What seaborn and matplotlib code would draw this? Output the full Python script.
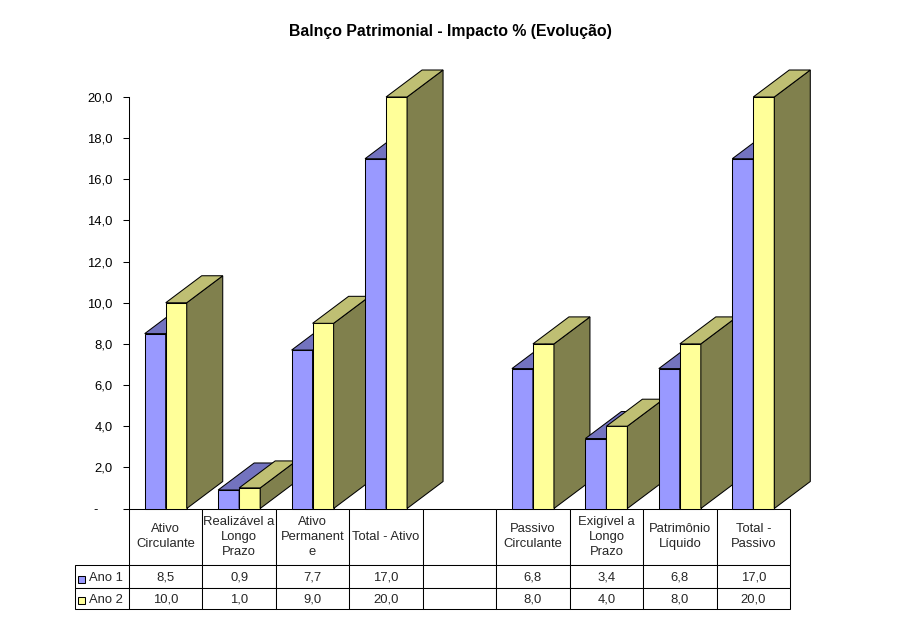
import matplotlib
matplotlib.use("Agg")
import matplotlib.pyplot as plt
from matplotlib.patches import Polygon, Rectangle
import numpy as np
import pandas as pd
import seaborn as sns

categories = ["Ativo\nCirculante", "Realizável a\nLongo\nPrazo", "Ativo\nPermanent\ne", "Total - Ativo", "",
              "Passivo\nCirculante", "Exigível a\nLongo\nPrazo", "Patrimônio\nLíquido", "Total -\nPassivo"]
ano1 = [8.5, 0.9, 7.7, 17.0, np.nan, 6.8, 3.4, 6.8, 17.0]
ano2 = [10.0, 1.0, 9.0, 20.0, np.nan, 8.0, 4.0, 8.0, 20.0]
series_names = ["Ano 1", "Ano 2"]
yticks = [0, 2, 4, 6, 8, 10, 12, 14, 16, 18, 20]
ylabels = ["-    ", "2,0", "4,0", "6,0", "8,0", "10,0", "12,0", "14,0", "16,0", "18,0", "20,0"]

front = ["#9999FF", "#FFFF99"]
top = ["#7373BF", "#BFBF73"]
side = ["#4D4D80", "#80804D"]

W, H = 900, 624
DEPTH_X, DEPTH_Y = 36, 27  # 3d offset in pixels
LW = 0.75
FS = 9.4

sns.set_theme(style="white")
plt.rcParams["font.family"] = ["Liberation Sans", "DejaVu Sans"]


def fmt(v):
    return "" if np.isnan(v) else f"{v:.1f}".replace(".", ",")


df = pd.DataFrame({"cat": categories * 2,
                   "serie": [series_names[0]] * 9 + [series_names[1]] * 9,
                   "valor": ano1 + ano2})

fig = plt.figure(figsize=(W / 100, H / 100), dpi=100)
ax = fig.add_axes([129 / W, 1 - 508.5 / H, 661 / W, 411.5 / H])
sns.barplot(data=df, x="cat", y="valor", hue="serie", order=categories, hue_order=series_names,
            palette=front, width=0.572, errorbar=None, legend=False, saturation=1,
            edgecolor="black", linewidth=LW, ax=ax)
ax.set_xlim(-0.5, 8.5)
ax.set_ylim(0, 20)
ax.set_xlabel("")
ax.set_ylabel("")
ax.set_xticks([])
ax.set_yticks(yticks)
ax.set_yticklabels(ylabels, fontsize=FS, color="black")
ax.tick_params(axis="y", left=True, length=4.6, width=LW, color="black", pad=7)
sns.despine(ax=ax, top=True, right=True, bottom=True)
ax.spines["left"].set_color("black")
ax.spines["left"].set_linewidth(LW)

# fake 3d faces, built from the bars seaborn drew
dx = DEPTH_X / (661 / 9)
dy = DEPTH_Y / (411.5 / 20)
for s, container in enumerate(ax.containers):
    for bar in container:
        x0, w, h = bar.get_x(), bar.get_width(), bar.get_height()
        if np.isnan(h):
            continue
        cat = int(round(x0 + w * (1 - s)))
        z = 3 + cat * 2 + s
        x1 = x0 + w
        bar.set_zorder(z)
        bar.set_clip_on(False)
        top_face = Polygon([(x0, h), (x1, h), (x1 + dx, h + dy), (x0 + dx, h + dy)],
                           facecolor=top[s], edgecolor="black", linewidth=LW, zorder=z, clip_on=False)
        side_face = Polygon([(x1, 0), (x1, h), (x1 + dx, h + dy), (x1 + dx, dy)],
                            facecolor=side[s], edgecolor="black", linewidth=LW, zorder=z, clip_on=False)
        ax.add_patch(side_face)
        ax.add_patch(top_face)

# data table under the plot
cell_text = [[c for c in categories], [fmt(v) for v in ano1], [fmt(v) for v in ano2]]
tab = ax.table(cellText=cell_text, rowLabels=["", series_names[0], series_names[1]],
               colWidths=[1 / 9] * 9, cellLoc="center", rowLoc="left", loc="bottom")
tab.auto_set_font_size(False)
tab.set_fontsize(FS)
tab._autoColumns = []  # keep the label column at my width
row_h = [56.5 / 411.5, 23 / 411.5, 21 / 411.5]
for (r, c), cell in tab.get_celld().items():
    cell.set_height(row_h[r])
    cell.set_linewidth(LW)
    cell.set_edgecolor("black")
    cell.get_text().set_linespacing(1.35)
    if r > 0:
        cell.get_text().set_verticalalignment("center_baseline")
    if c == -1:
        cell.set_width(54 / 661)
        cell.PAD = 14 / 54
        if r == 0:
            cell.visible_edges = ""

# legend keys in the table
for s, cy in [(0, 579), (1, 600.5)]:
    ax.add_patch(Rectangle((78 / W, 1 - (cy + 3.5) / H), 7 / W, 7 / H, transform=fig.transFigure,
                           facecolor=front[s], edgecolor="black", linewidth=LW, clip_on=False, zorder=50))

fig.text(0.5, 1 - 31.5 / H, "Balnço Patrimonial - Impacto % (Evolução)", ha="center", va="center",
         fontsize=11.4, fontweight="bold", color="black")

fig.savefig("out.png", dpi=100, facecolor="white")
